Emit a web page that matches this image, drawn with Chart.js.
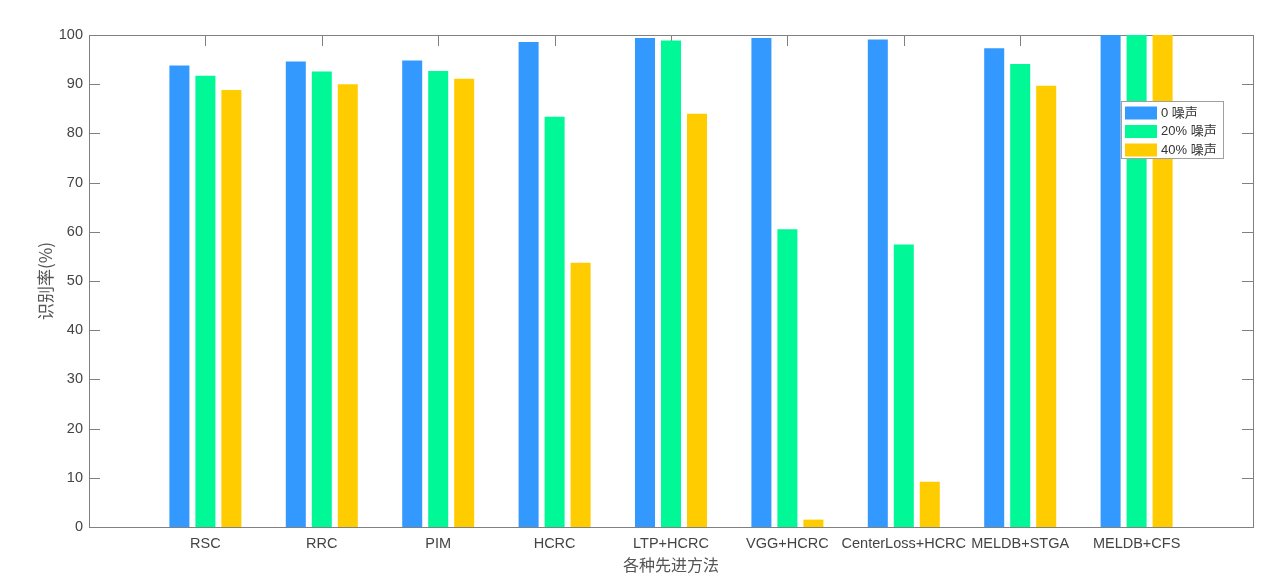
<!DOCTYPE html>
<html>
<head>
<meta charset="utf-8">
<script src="https://cdn.jsdelivr.net/npm/chart.js@4/dist/chart.umd.min.js"></script>
<style>
  html, body { margin: 0; padding: 0; background: #fff; }
</style>
</head>
<body>
<canvas id="chart" width="1287" height="581"></canvas>
<script>
const categories = ['RSC', 'RRC', 'PIM', 'HCRC', 'LTP+HCRC', 'VGG+HCRC', 'CenterLoss+HCRC', 'MELDB+STGA', 'MELDB+CFS'];
const noise0  = [93.8, 94.6, 94.8, 98.6, 99.4, 99.4, 99.1, 97.3, 100];
const noise20 = [91.7, 92.6, 92.7, 83.4, 98.9, 60.5, 57.4, 94.1, 100];
const noise40 = [88.8, 90.0, 91.1, 53.7, 84.0, 1.5, 9.2, 89.7, 100];
const seriesNames = ['0 噪声', '20% 噪声', '40% 噪声'];
const colors = ['#3399ff', '#00f996', '#ffcc00'];
const yTicks = [0, 10, 20, 30, 40, 50, 60, 70, 80, 90, 100];

const axisColor = '#808080';
const textColor = '#444';
const latin = '"Liberation Sans", Arial, sans-serif';
const cjk = '"Liberation Sans", "Noto Sans CJK SC", sans-serif';

function series(values, i) {
  return {
    label: seriesNames[i],
    data: values.map((v, k) => ({ x: k + 1, y: v })),
    backgroundColor: colors[i],
    borderWidth: 0,
    categoryPercentage: 0.67,
    barPercentage: 0.77
  };
}

// matlab style box with ticks pointing inwards, drawn under the bars
const axesBox = {
  id: 'axesBox',
  beforeDatasetsDraw(chart) {
    const { ctx, chartArea: a, scales: { x, y } } = chart;
    ctx.save();
    ctx.strokeStyle = axisColor;
    ctx.lineWidth = 1;
    ctx.strokeRect(a.left + 0.5, a.top + 0.5, a.right - a.left, a.bottom - a.top);
    ctx.beginPath();
    yTicks.forEach(v => {
      const py = Math.round(y.getPixelForValue(v)) + 0.5;
      ctx.moveTo(a.left, py); ctx.lineTo(a.left + 11, py);
      ctx.moveTo(a.right, py); ctx.lineTo(a.right - 11, py);
    });
    categories.forEach((c, i) => {
      const px = Math.round(x.getPixelForValue(i + 1)) + 0.5;
      ctx.moveTo(px, a.top); ctx.lineTo(px, a.top + 11);
      ctx.moveTo(px, a.bottom); ctx.lineTo(px, a.bottom - 11);
    });
    ctx.stroke();
    ctx.restore();
  }
};

// legend box inside the plot, top right
const boxLegend = {
  id: 'boxLegend',
  afterDraw(chart) {
    const { ctx, chartArea: a } = chart;
    const w = 102, h = 57;
    const bx = a.right - 30 - w, by = a.top + 66;
    ctx.save();
    ctx.fillStyle = '#fff';
    ctx.fillRect(bx, by, w, h);
    ctx.strokeStyle = '#a0a0a0';
    ctx.lineWidth = 1;
    ctx.strokeRect(bx + 0.5, by + 0.5, w, h);
    ctx.font = '13px ' + cjk;
    ctx.textBaseline = 'middle';
    chart.data.datasets.forEach((ds, i) => {
      const cy = by + 12 + i * 18.5;
      ctx.fillStyle = ds.backgroundColor;
      ctx.fillRect(bx + 4, cy - 6.5, 32, 13);
      ctx.fillStyle = '#333';
      ctx.fillText(ds.label, bx + 40, cy);
    });
    ctx.restore();
  }
};

new Chart(document.getElementById('chart'), {
  type: 'bar',
  data: {
    datasets: [series(noise0, 0), series(noise20, 1), series(noise40, 2)]
  },
  options: {
    responsive: false,
    animation: false,
    devicePixelRatio: 1,
    layout: { padding: { left: 0, right: 34, top: 35, bottom: 0 } },
    plugins: {
      legend: { display: false },
      tooltip: { enabled: false }
    },
    scales: {
      x: {
        type: 'linear',
        min: 0,
        max: 10,
        offset: false,
        grid: { display: false, drawTicks: false, offset: false },
        border: { display: false },
        afterBuildTicks: s => { s.ticks = categories.map((c, i) => ({ value: i + 1 })); },
        afterFit: s => { s.height = 54; },
        ticks: {
          autoSkip: false,
          maxRotation: 0,
          minRotation: 0,
          padding: 8,
          color: textColor,
          font: { family: latin, size: 14.5 },
          callback: v => categories[v - 1] || ''
        },
        title: {
          display: true,
          text: '各种先进方法',
          color: '#555',
          font: { family: '"Noto Sans CJK SC", sans-serif', size: 16 },
          padding: { top: 0, bottom: 6 }
        }
      },
      y: {
        min: 0,
        max: 100,
        grid: { display: false, drawTicks: false },
        border: { display: false },
        afterFit: s => { s.width = 89; },
        ticks: {
          stepSize: 10,
          padding: 6,
          color: textColor,
          font: { family: latin, size: 14.5 },
        },
        title: {
          display: true,
          text: '识别率(%)',
          color: '#555',
          font: { family: '"Noto Sans CJK SC", sans-serif', size: 17 },
          padding: { top: 35, bottom: 0 }
        }
      }
    }
  },
  plugins: [axesBox, boxLegend]
});
</script>
</body>
</html>
